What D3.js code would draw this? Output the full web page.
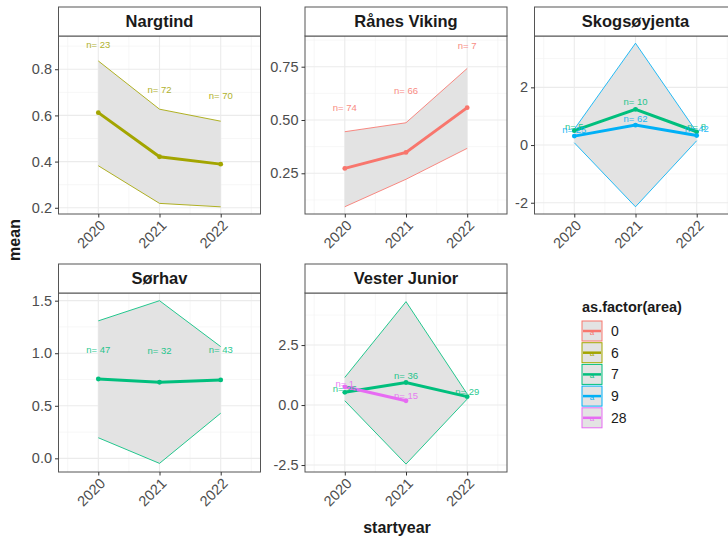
<!DOCTYPE html>
<html><head><meta charset="utf-8">
<script src="https://cdn.jsdelivr.net/npm/d3@7"></script>
<style>
body{margin:0;background:#fff;}
svg{display:block;font-family:"Liberation Sans",Arial,sans-serif;}
</style></head>
<body><svg id="c" width="728" height="540"></svg>
<script>
// ---------- data ----------
const years = [2020, 2021, 2022];
const areas = ["0", "6", "7", "9", "28"];
const areaColors = ["#F8766D", "#A3A500", "#00BF7D", "#00B0F6", "#E76BF3"];
const panelNames = ["Nargtind", "Rånes Viking", "Skogsøyjenta", "Sørhav", "Vester Junior"];

// y-axis ticks per panel
const ticksNargtind = [0.2, 0.4, 0.6, 0.8];
const tickLabelsNargtind = ["0.2", "0.4", "0.6", "0.8"];
const ticksRanes = [0.25, 0.5, 0.75];
const tickLabelsRanes = ["0.25", "0.50", "0.75"];
const ticksSkogs = [-2, 0, 2];
const tickLabelsSkogs = ["-2", "0", "2"];
const ticksSorhav = [0, 0.5, 1, 1.5];
const tickLabelsSorhav = ["0.0", "0.5", "1.0", "1.5"];
const ticksVester = [-2.5, 0, 2.5];
const tickLabelsVester = ["-2.5", "0.0", "2.5"];
const xTickLabels = ["2020", "2021", "2022"];

// y ranges shown (limits of each panel)
const yLimNargtind = [0.173, 0.944];
const yLimRanes = [0.059, 0.894];
const yLimSkogs = [-2.39, 3.78];
const yLimSorhav = [-0.130, 1.573];
const yLimVester = [-2.79, 4.67];
const xLim = [2019.35, 2022.65];

// series: Nargtind, area 6
const narg6Mean = [0.612, 0.421, 0.389];
const narg6Lo = [0.382, 0.219, 0.204];
const narg6Hi = [0.836, 0.627, 0.575];
const narg6N = [23, 72, 70];
const narg6LabelY = [0.905, 0.713, 0.684];
// Rånes Viking, area 0
const ranes0Mean = [0.273, 0.348, 0.558];
const ranes0Lo = [0.093, 0.222, 0.367];
const ranes0Hi = [0.445, 0.487, 0.742];
const ranes0N = [74, 66, 7];
const ranes0LabelY = [0.558, 0.639, 0.85];
// Skogsøyjenta, area 7
const skog7Mean = [0.50, 1.24, 0.46];
const skog7N = [5, 10, 8];
const skog7LabelY = [0.62, 1.49, 0.62];
// Skogsøyjenta, area 9
const skog9Mean = [0.31, 0.69, 0.33];
const skog9Lo = [0.08, -2.14, 0.15];
const skog9Hi = [0.55, 3.53, 0.45];
const skog9N = [25, 62, 42];
const skog9LabelY = [0.55, 0.93, 0.58];
// Sørhav, area 7
const sorhav7Mean = [0.755, 0.724, 0.746];
const sorhav7Lo = [0.196, -0.048, 0.429];
const sorhav7Hi = [1.308, 1.50, 1.063];
const sorhav7N = [47, 32, 43];
const sorhav7LabelY = [1.038, 1.022, 1.038];
// Vester Junior, area 7
const vester7Mean = [0.53, 0.94, 0.35];
const vester7Lo = [0.18, -2.46, 0.25];
const vester7Hi = [1.15, 4.31, 0.46];
const vester7N = [25, 36, 29];
const vester7LabelY = [0.70, 1.22, 0.57];
// Vester Junior, area 28
const vester28Years = [2020, 2021];
const vester28Mean = [0.76, 0.18];
const vester28N = [1, 15];
const vester28LabelY = [0.88, 0.39];

// ---------- build ----------
function series(area, yrs, mean, lo, hi, n, labY) {
  return {area, color: areaColors[areas.indexOf(area)],
    pts: yrs.map((y, i) => ({year: y, mean: mean[i], lo: lo ? lo[i] : null, hi: hi ? hi[i] : null, n: n[i], ly: labY[i]}))};
}
const panels = [
  {name: panelNames[0], col: 0, row: 0, ylim: yLimNargtind, ticks: ticksNargtind, labels: tickLabelsNargtind,
   series: [series("6", years, narg6Mean, narg6Lo, narg6Hi, narg6N, narg6LabelY)]},
  {name: panelNames[1], col: 1, row: 0, ylim: yLimRanes, ticks: ticksRanes, labels: tickLabelsRanes,
   series: [series("0", years, ranes0Mean, ranes0Lo, ranes0Hi, ranes0N, ranes0LabelY)]},
  {name: panelNames[2], col: 2, row: 0, ylim: yLimSkogs, ticks: ticksSkogs, labels: tickLabelsSkogs,
   series: [series("7", years, skog7Mean, null, null, skog7N, skog7LabelY),
            series("9", years, skog9Mean, skog9Lo, skog9Hi, skog9N, skog9LabelY)]},
  {name: panelNames[3], col: 0, row: 1, ylim: yLimSorhav, ticks: ticksSorhav, labels: tickLabelsSorhav,
   series: [series("7", years, sorhav7Mean, sorhav7Lo, sorhav7Hi, sorhav7N, sorhav7LabelY)]},
  {name: panelNames[4], col: 1, row: 1, ylim: yLimVester, ticks: ticksVester, labels: tickLabelsVester,
   series: [series("7", years, vester7Mean, vester7Lo, vester7Hi, vester7N, vester7LabelY),
            series("28", vester28Years, vester28Mean, null, null, vester28N, vester28LabelY)]}
];

const colLeft = [58.5, 305, 534.5];
const panelW = 202;
const rows = [{stripTop: 7, top: 36, bottom: 214}, {stripTop: 264, top: 293, bottom: 472}];
const borderCol = "#555555";
const svg = d3.select("#c");
const defs = svg.append("defs");

panels.forEach((p, pi) => {
  const L = colLeft[p.col], R = L + panelW, row = rows[p.row];
  const x = d3.scaleLinear().domain(xLim).range([L, R]);
  const y = d3.scaleLinear().domain(p.ylim).range([row.bottom, row.top]);
  const g = svg.append("g");
  defs.append("clipPath").attr("id", "clip" + pi).append("rect")
    .attr("x", L).attr("y", row.top).attr("width", panelW).attr("height", row.bottom - row.top);
  const inner = g.append("g").attr("clip-path", `url(#clip${pi})`);
  inner.append("rect").attr("x", L).attr("y", row.top).attr("width", panelW).attr("height", row.bottom - row.top).attr("fill", "#fff");
  // minor grid
  const step = p.ticks[1] - p.ticks[0];
  const minorY = [];
  for (let v = p.ticks[0] - step / 2; v <= p.ylim[1]; v += step) if (v >= p.ylim[0]) minorY.push(v);
  const minorX = [2019.5, 2020.5, 2021.5, 2022.5];
  inner.selectAll(".mny").data(minorY).join("line").attr("x1", L).attr("x2", R)
    .attr("y1", d => y(d)).attr("y2", d => y(d)).attr("stroke", "#F3F3F3").attr("stroke-width", 0.7);
  inner.selectAll(".mnx").data(minorX).join("line").attr("y1", row.top).attr("y2", row.bottom)
    .attr("x1", d => x(d)).attr("x2", d => x(d)).attr("stroke", "#F3F3F3").attr("stroke-width", 0.7);
  inner.selectAll(".mjy").data(p.ticks).join("line").attr("x1", L).attr("x2", R)
    .attr("y1", d => y(d)).attr("y2", d => y(d)).attr("stroke", "#EBEBEB").attr("stroke-width", 1.1);
  inner.selectAll(".mjx").data(years).join("line").attr("y1", row.top).attr("y2", row.bottom)
    .attr("x1", d => x(d)).attr("x2", d => x(d)).attr("stroke", "#EBEBEB").attr("stroke-width", 1.1);
  // ribbons
  p.series.forEach(s => {
    if (s.pts[0].lo === null) return;
    inner.append("path").datum(s.pts)
      .attr("d", d3.area().x(d => x(d.year)).y0(d => y(d.lo)).y1(d => y(d.hi)))
      .attr("fill", "#E3E3E3");
    ["lo", "hi"].forEach(k => inner.append("path").datum(s.pts)
      .attr("d", d3.line().x(d => x(d.year)).y(d => y(d[k])))
      .attr("fill", "none").attr("stroke", s.color).attr("stroke-width", 1).attr("opacity", 0.85));
  });
  // mean lines
  p.series.forEach(s => {
    inner.append("path").datum(s.pts)
      .attr("d", d3.line().x(d => x(d.year)).y(d => y(d.mean)))
      .attr("fill", "none").attr("stroke", s.color).attr("stroke-width", 3);
  });
  p.series.forEach(s => {
    inner.selectAll(null).data(s.pts).join("circle")
      .attr("cx", d => x(d.year)).attr("cy", d => y(d.mean)).attr("r", 2.4).attr("fill", s.color);
  });
  p.series.forEach(s => {
    inner.selectAll(null).data(s.pts).join("text")
      .attr("x", d => x(d.year)).attr("y", d => y(d.ly)).attr("dy", "0.35em")
      .attr("text-anchor", "middle").attr("font-size", 9.5).attr("fill", s.color).attr("opacity", 0.85)
      .text(d => "n= " + d.n);
  });
  // border
  g.append("rect").attr("x", L).attr("y", row.top).attr("width", panelW).attr("height", row.bottom - row.top)
    .attr("fill", "none").attr("stroke", borderCol).attr("stroke-width", 1);
  // strip
  g.append("rect").attr("x", L).attr("y", row.stripTop).attr("width", panelW).attr("height", row.top - row.stripTop)
    .attr("fill", "#fff").attr("stroke", borderCol).attr("stroke-width", 1);
  g.append("text").attr("x", (L + R) / 2).attr("y", (row.stripTop + row.top) / 2).attr("dy", "0.36em")
    .attr("text-anchor", "middle").attr("font-size", 16.5).attr("font-weight", "bold").attr("fill", "#1A1A1A").text(p.name);
  // y axis
  const ya = g.append("g").attr("transform", `translate(${L},0)`)
    .call(d3.axisLeft(y).tickValues(p.ticks).tickSize(3.5).tickPadding(3).tickFormat((d, i) => p.labels[i]));
  ya.select(".domain").remove();
  ya.selectAll(".tick line").attr("stroke", "#333");
  ya.selectAll(".tick text").attr("font-size", 14.5).attr("fill", "#4D4D4D").attr("font-family", "Liberation Sans, Arial, sans-serif");
  // x axis
  const xa = g.append("g").attr("transform", `translate(0,${row.bottom})`)
    .call(d3.axisBottom(x).tickValues(years).tickSize(3.5).tickFormat((d, i) => xTickLabels[i]));
  xa.select(".domain").remove();
  xa.selectAll(".tick line").attr("stroke", "#333");
  xa.selectAll(".tick text").attr("font-size", 14.5).attr("fill", "#4D4D4D").attr("font-family", "Liberation Sans, Arial, sans-serif")
    .attr("text-anchor", "end").attr("x", 0).attr("y", 0).attr("dy", "0.72em")
    .attr("transform", "translate(0,5) rotate(-45)");
});

// axis titles
svg.append("text").attr("transform", "translate(20,240) rotate(-90)").attr("text-anchor", "middle")
  .attr("font-size", 16).attr("font-weight", "bold").attr("fill", "#1A1A1A").text("mean");
svg.append("text").attr("x", 397).attr("y", 527).attr("dy", "0.35em").attr("text-anchor", "middle")
  .attr("font-size", 16).attr("font-weight", "bold").attr("fill", "#1A1A1A").text("startyear");

// legend
const lg = svg.append("g");
lg.append("text").attr("x", 582).attr("y", 307).attr("dy", "0.35em").attr("font-size", 14.5)
  .attr("font-weight", "bold").attr("fill", "#1A1A1A").text("as.factor(area)");
areas.forEach((a, i) => {
  const ky = 321 + i * 21.7, kx = 582, c = areaColors[i];
  lg.append("rect").attr("x", kx).attr("y", ky).attr("width", 20).attr("height", 20)
    .attr("fill", "#E3E3E3").attr("stroke", c).attr("stroke-width", 1);
  lg.append("text").attr("x", kx + 10).attr("y", ky + 13.5).attr("text-anchor", "middle")
    .attr("font-size", 8).attr("fill", c).text("a");
  lg.append("line").attr("x1", kx + 1).attr("x2", kx + 19).attr("y1", ky + 10).attr("y2", ky + 10)
    .attr("stroke", c).attr("stroke-width", 2.5);
  lg.append("text").attr("x", 611).attr("y", ky + 10).attr("dy", "0.36em").attr("font-size", 14)
    .attr("fill", "#1A1A1A").text(a);
});
</script></body></html>
